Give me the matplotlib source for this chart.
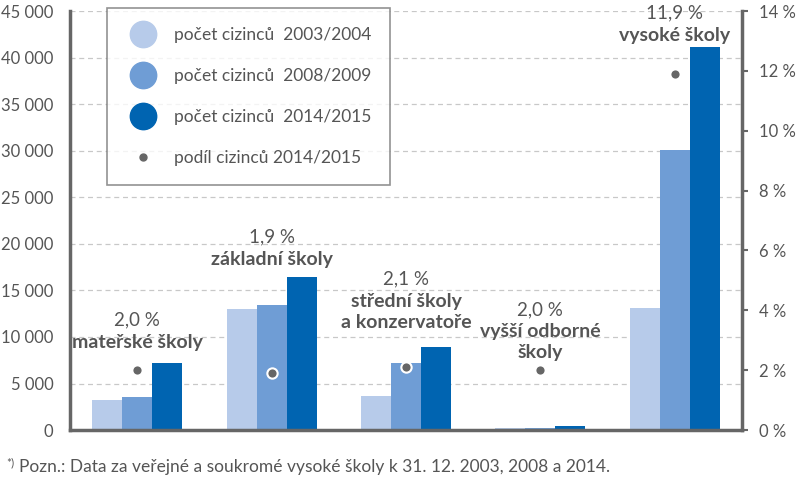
import numpy as np
import matplotlib.pyplot as plt
from matplotlib.lines import Line2D

# data
categories = ["mateřské školy", "základní školy", "střední školy\na konzervatoře",
              "vyšší odborné\nškoly", "vysoké školy"]
pocet_2003 = [3200, 13000, 3650, 250, 13100]
pocet_2008 = [3550, 13450, 7200, 200, 30100]
pocet_2014 = [7200, 16450, 8900, 450, 41150]
podil_2014 = [2.0, 1.9, 2.1, 2.0, 11.9]
podil_labels = ["2,0 %", "1,9 %", "2,1 %", "2,0 %", "11,9 %"]
series_labels = ["počet cizinců  2003/2004", "počet cizinců  2008/2009",
                 "počet cizinců  2014/2015", "podíl cizinců 2014/2015"]
left_ticks = [0, 5000, 10000, 15000, 20000, 25000, 30000, 35000, 40000, 45000]
right_ticks = [0, 2, 4, 6, 8, 10, 12, 14]

# where the "x,x %" label sits above each group (left-axis units)
label_y = [11800, 20700, 16200, 12900, 44750]

C_LIGHT = "#b7cbea"
C_MID = "#6f9dd5"
C_DARK = "#0064b1"
C_TEXT = "#555555"
C_AXIS = "#666666"

plt.rcParams["font.family"] = ["Lato", "DejaVu Sans"]

fig = plt.figure(figsize=(8, 4.8), dpi=100)
ax = fig.add_axes([0.0875, 0.104, 0.84, 0.873])
ax2 = ax.twinx()

x = np.arange(len(categories))
w = 0.223
ax.bar(x - w, pocet_2003, w, color=C_LIGHT, zorder=2)
ax.bar(x, pocet_2008, w, color=C_MID, zorder=2)
ax.bar(x + w, pocet_2014, w, color=C_DARK, zorder=2)

ax.set_xlim(-0.5, 4.5)
ax.set_ylim(0, 45000)
ax.set_yticks(left_ticks)
ax.set_yticklabels([f"{v:,}".replace(",", " ") for v in left_ticks])
ax.set_xticks([])
ax.grid(axis="y", color="#c8c8c8", linestyle=(0, (4, 3)), linewidth=0.9, zorder=0)
ax.tick_params(axis="y", length=0, labelsize=12, labelcolor=C_TEXT, pad=12)
for s in ["top", "right"]:
    ax.spines[s].set_visible(False)
ax.spines["left"].set_color(C_AXIS)
ax.spines["left"].set_linewidth(2.5)
ax.spines["bottom"].set_color(C_AXIS)
ax.spines["bottom"].set_linewidth(2.5)

ax2.scatter(x, podil_2014, s=55, color=C_AXIS, edgecolor="white", linewidth=1.5, zorder=5)
ax2.set_ylim(0, 14)
ax2.set_yticks(right_ticks)
ax2.set_yticklabels([f"{v} %" for v in right_ticks])
ax2.tick_params(axis="y", length=4, width=1.5, color=C_AXIS, labelsize=12,
                labelcolor=C_TEXT, pad=8)
for s in ["top", "left", "bottom"]:
    ax2.spines[s].set_visible(False)
ax2.spines["right"].set_color(C_AXIS)
ax2.spines["right"].set_linewidth(2.5)

# group labels: percentage, then bold category name line by line
for i, cat in enumerate(categories):
    ax.annotate(podil_labels[i], (x[i], label_y[i]), ha="center", va="center",
                fontsize=13.5, color=C_TEXT, zorder=6)
    for j, line in enumerate(cat.split("\n")):
        ax.annotate(line, (x[i], label_y[i]), xytext=(0, -22 - 21 * j),
                    textcoords="offset pixels", ha="center", va="center",
                    fontsize=14, fontweight="bold", color=C_TEXT, zorder=6)

# legend
handles = [
    Line2D([], [], marker="o", linestyle="", markersize=19, color=C_LIGHT),
    Line2D([], [], marker="o", linestyle="", markersize=19, color=C_MID),
    Line2D([], [], marker="o", linestyle="", markersize=19, color=C_DARK),
    Line2D([], [], marker="o", linestyle="", markersize=5, color=C_AXIS),
]
leg = ax.legend(handles, series_labels, loc="upper left",
                bbox_to_anchor=(0.055, 1.008), fontsize=12.5, frameon=True,
                fancybox=False, edgecolor="#777777", labelspacing=1.45,
                borderpad=1.1, handletextpad=0.75, borderaxespad=0)
leg.get_frame().set_linewidth(1.2)
for t in leg.get_texts():
    t.set_color(C_TEXT)
leg.set_zorder(10)

fig.text(0.008, 0.036, "*)", fontsize=8.5, color=C_TEXT, ha="left", va="center")
fig.text(0.024, 0.028, "Pozn.: Data za veřejné a soukromé vysoké školy k 31. 12. 2003, 2008 a 2014.",
         fontsize=12.5, color=C_TEXT, ha="left", va="center")

fig.savefig("out.png", dpi=100)
